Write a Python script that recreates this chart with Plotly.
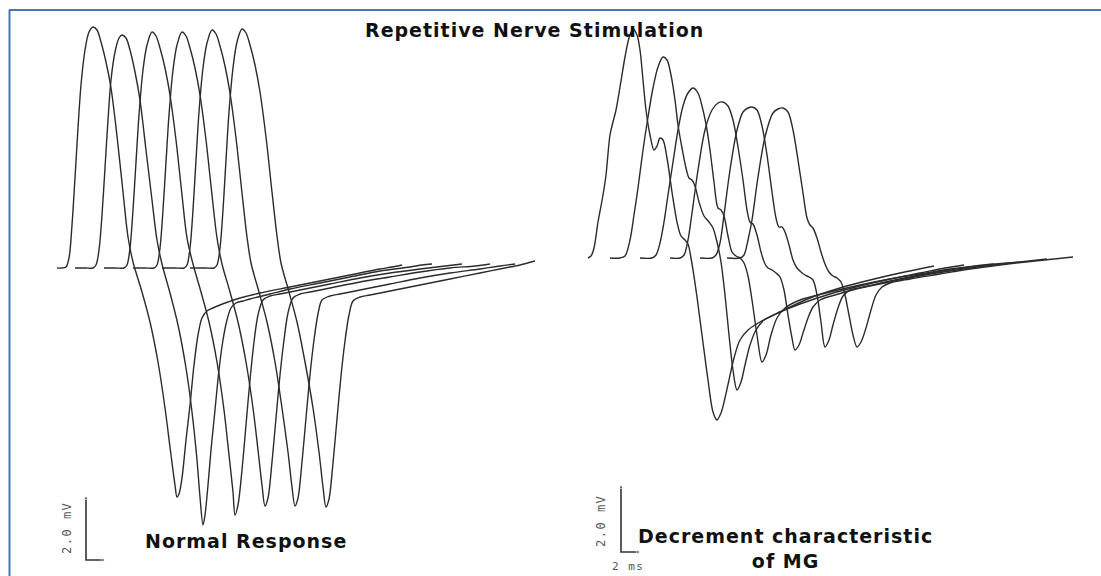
import plotly.graph_objects as go

# ---------------- Normal response (left panel) ----------------
L1_t = [57,62,66,69,72,75,78,81,85,89,93,97,101,106,111,117,123,128,133,142,150,158,165,171,175,177,179,182,186,190,194,198,202,207,213,220,228,240,260,290,320,350,380,392,402]
L1_v = [268,268,267,258,225,178,128,85,50,32,27,30,42,62,88,136,192,237,262,292,322,362,408,455,485,497,494,478,440,405,365,335,318,311,308,305,302,298,293,287,281,275,269,267,265]
L2_t = [75,85,93,96,99,102,105,108,111,115,119,122,126,130,135,140,146,152,157,162,170,178,186,192,197,200,203,205,208,211,215,219,223,227,231,236,243,250,258,270,290,320,350,380,410,422,432]
L2_v = [268,268,268,265,250,215,168,120,80,52,38,35,38,50,72,100,150,200,240,264,293,325,368,412,460,497,525,515,485,450,410,370,340,320,308,303,301,299,297,294,289,283,277,271,267,265,264]
L3_t = [104,115,124,127,130,133,136,139,143,147,152,156,160,165,170,176,182,187,193,201,209,217,224,229,233,235,238,242,246,250,254,258,263,270,280,300,330,360,390,420,445,462]
L3_v = [268,268,268,265,248,210,162,115,70,45,32,36,48,68,95,140,195,238,264,292,322,362,410,455,492,515,505,470,425,380,342,315,300,296,294,290,284,278,273,269,266,264]
L4_t = [133,145,154,157,160,163,166,169,173,177,182,186,190,195,200,206,212,217,222,230,238,246,253,258,262,265,268,272,276,280,284,288,293,300,310,330,360,390,420,450,475,490]
L4_v = [268,268,268,265,248,210,162,115,70,45,32,36,48,68,95,140,195,238,264,292,322,362,408,450,485,506,498,462,418,375,340,313,298,294,292,288,282,277,272,268,266,264]
L5_t = [162,175,184,187,190,193,196,199,203,207,212,216,220,225,230,236,242,247,251,259,267,275,282,288,292,295,298,302,306,310,314,318,322,330,340,360,390,420,450,480,500,515]
L5_v = [268,268,268,265,248,210,160,112,68,43,30,34,46,66,93,138,193,237,263,292,322,362,408,452,487,506,498,462,418,375,340,314,300,296,294,290,284,278,273,269,266,264]
L6_t = [190,205,214,217,220,223,226,229,233,237,242,246,250,255,260,266,272,277,281,289,297,305,313,319,323,326,329,333,337,341,345,349,353,360,370,390,420,450,480,505,520,535]
L6_v = [268,268,268,265,248,210,160,112,68,42,29,33,45,65,92,137,192,236,263,292,322,362,408,452,487,507,499,463,419,376,341,315,301,297,295,291,285,279,273,268,265,261]

# ---------------- Decrement (right panel) ----------------
R1_t = [588,591,594,598,603,606,610,613,616,620,625,629,633,637,640,643,646,650,654,657,660,663,667,672,677,681,685,688,691,696,702,708,713,717,721,725,729,734,740,748,760,780,810,840,870,900,934]
R1_v = [258,256,248,222,195,175,135,122,110,87,57,38,29,35,50,80,110,135,150,146,138,140,158,192,222,236,240,244,258,290,335,380,412,420,413,398,380,358,340,330,322,312,298,288,280,273,266]
R2_t = [610,620,625,630,634,638,643,648,653,658,663,667,671,675,678,682,686,689,692,695,699,704,709,713,717,721,725,729,733,737,741,745,750,756,764,780,800,830,860,890,920,945,964]
R2_v = [258,258,256,240,215,188,150,117,88,67,57,60,75,100,125,148,168,178,180,186,202,216,222,228,242,262,295,335,370,390,382,365,345,330,320,312,304,294,286,279,273,268,265]
R3_t = [640,652,656,660,664,668,673,678,683,688,693,698,702,706,710,714,718,721,724,728,732,736,740,744,748,752,757,762,766,771,777,785,800,830,860,890,920,950,975,994]
R3_v = [258,258,255,243,222,195,162,130,106,93,88,93,106,124,150,182,208,210,216,236,252,256,258,263,276,300,335,362,355,335,318,308,300,292,285,279,274,269,266,264]
R4_t = [670,680,684,688,692,698,705,712,718,723,728,733,738,743,747,750,753,757,761,765,768,772,776,780,784,788,792,795,799,803,808,813,820,835,860,890,920,950,985,1020]
R4_v = [258,258,255,240,213,170,130,110,103,102,106,120,147,180,210,222,224,235,252,264,268,270,273,277,290,315,338,350,345,333,318,307,300,295,288,281,275,270,265,262]
R5_t = [700,712,716,720,724,730,737,743,748,752,757,762,767,772,776,779,782,785,789,793,797,801,805,809,813,817,821,825,829,833,838,843,850,865,890,920,950,985,1020,1047]
R5_v = [258,258,255,243,215,170,130,112,108,107,110,126,155,192,218,227,227,232,245,260,268,272,275,277,280,295,322,347,340,325,308,296,290,287,282,276,271,266,262,259]
R6_t = [727,740,744,748,752,758,765,773,778,783,788,793,798,803,807,810,813,817,821,825,829,833,837,841,845,849,853,857,861,866,871,876,882,890,910,940,970,1000,1035,1073]
R6_v = [258,258,255,240,220,177,137,113,109,108,112,130,160,193,218,225,228,238,252,264,272,276,278,282,295,315,335,347,342,328,310,295,287,283,279,274,269,265,261,257]

left_traces = [(L1_t, L1_v), (L2_t, L2_v), (L3_t, L3_v), (L4_t, L4_v), (L5_t, L5_v), (L6_t, L6_v)]
right_traces = [(R1_t, R1_v), (R2_t, R2_v), (R3_t, R3_v), (R4_t, R4_v), (R5_t, R5_v), (R6_t, R6_v)]

# Calibration bars (2.0 mV vertical, 2 ms horizontal)
bar_left_t = [86, 86, 103]
bar_left_v = [498, 560, 560]
bar_right_t = [621, 621, 638]
bar_right_v = [487, 552, 552]

title_text = "Repetitive Nerve Stimulation"
left_label = "Normal Response"
right_label = "Decrement characteristic<br>of MG"
mv_label = "2.0 mV"
ms_label = "2 ms"

TRACE_COLOR = "#2b2b2b"
FRAME_COLOR = "#4a74b2"

fig = go.Figure()
for t, v in left_traces + right_traces:
    fig.add_trace(go.Scatter(x=t, y=v, mode="lines",
                             line=dict(color=TRACE_COLOR, width=1.4, shape="spline", smoothing=0.9),
                             hoverinfo="skip", showlegend=False))
for t, v in [(bar_left_t, bar_left_v), (bar_right_t, bar_right_v)]:
    fig.add_trace(go.Scatter(x=t, y=v, mode="lines+markers", line=dict(color="#333333", width=1.6),
                             marker=dict(size=[3, 0, 3], color="#333333"),
                             hoverinfo="skip", showlegend=False))

def spaced(s, sp=1):
    return f'<span style="letter-spacing:{sp}px">{s}</span>'

font_b = dict(family="DejaVu Sans", size=19, color="#111111", weight="bold")
fig.add_annotation(x=534, y=30, text=spaced(title_text), showarrow=False, font=font_b, xanchor="center", yanchor="middle")
fig.add_annotation(x=246, y=541, text=spaced(left_label), showarrow=False, font=font_b, xanchor="center", yanchor="middle")
fig.add_annotation(x=785, y=548, text=spaced(right_label), showarrow=False, font=font_b, xanchor="center", yanchor="middle")

small = dict(family="DejaVu Sans Mono", size=12, color="#555555")
fig.add_annotation(x=67, y=528, text=spaced(mv_label, 1.5), textangle=-90, showarrow=False, font=small)
fig.add_annotation(x=601, y=521, text=spaced(mv_label, 1.5), textangle=-90, showarrow=False, font=small)
fig.add_annotation(x=628, y=566, text=spaced(ms_label, 1.5), showarrow=False, font=dict(family="DejaVu Sans Mono", size=11, color="#555555"))

fig.add_shape(type="line", x0=9, x1=1101, y0=10, y1=10, line=dict(color=FRAME_COLOR, width=2))
fig.add_shape(type="line", x0=9.5, x1=9.5, y0=10, y1=576, line=dict(color=FRAME_COLOR, width=2))

fig.update_xaxes(range=[0, 1101], visible=False, fixedrange=True)
fig.update_yaxes(range=[576, 0], visible=False, fixedrange=True)
fig.update_layout(width=1101, height=576, margin=dict(l=0, r=0, t=0, b=0),
                  paper_bgcolor="white", plot_bgcolor="white", autosize=False)

fig.write_html("out.html", config={"displayModeBar": False},
               post_script="document.body.style.margin='0';document.body.style.overflow='hidden';")
